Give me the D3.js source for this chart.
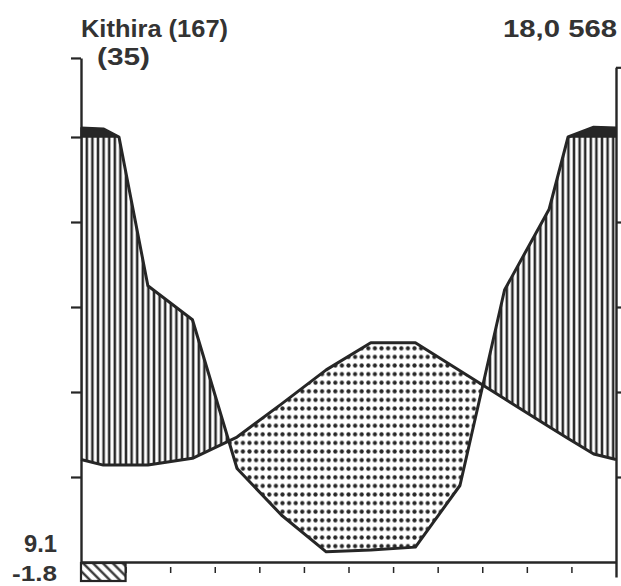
<!DOCTYPE html>
<html>
<head>
<meta charset="utf-8">
<script src="https://cdn.jsdelivr.net/npm/d3@7"></script>
<style>
  html, body { margin: 0; padding: 0; background: #fff; }
  svg { display: block; }
  text { font-family: "Liberation Sans", Arial, sans-serif; font-weight: bold; fill: #333; }
</style>
</head>
<body>
<svg id="chart" width="621" height="586"></svg>
<script>
// Walter-Lieth climate diagram, Kithira

const stationLabel = 'Kithira (167)';
const yearsLabel = '(35)';
const annualLabel = '18,0 568';
const lowLabels = ['9.1', '-1.8'];

const months = ['Jan', 'Feb', 'Mar', 'Apr', 'May', 'Jun', 'Jul', 'Aug', 'Sep', 'Oct', 'Nov', 'Dec'];
const tempVals = [11.4, 11.4, 12.2, 14.7, 18.6, 22.6, 25.8, 25.8, 22.5, 19.2, 15.9, 12.7];   // °C
const precipVals = [119, 65, 57, 22, 11, 2.4, 2.8, 3.5, 18, 64, 83, 123];                   // mm
const frostMonths = ['Jan'];

const tempTicks = [10, 20, 30, 40, 50];
const precipTicks = [20, 40, 60, 80];   // mm, = 10..40 °C

const W = 621, H = 586;
const ink = '#262626';

const svg = d3.select('#chart');
const defs = svg.append('defs');

// scales: 10 °C = 20 mm below 100 mm, 200 mm above
const x = d3.scaleLinear().domain([0, months.length]).range([81, 616]);
const yT = d3.scaleLinear().domain([0, 50]).range([562, 137]);
const yP = p => p <= 100 ? yT(p / 2) : yT(50 + (p - 100) / 20);

// patterns
const hv = defs.append('pattern').attr('id', 'hatchV')
  .attr('patternUnits', 'userSpaceOnUse').attr('width', 5.6).attr('height', 10);
hv.append('line').attr('x1', 2.8).attr('x2', 2.8).attr('y1', 0).attr('y2', 10)
  .attr('stroke', ink).attr('stroke-width', 2.5);

const dp = defs.append('pattern').attr('id', 'dots')
  .attr('patternUnits', 'userSpaceOnUse').attr('width', 6.6).attr('height', 8.6)
  .attr('x', 2).attr('y', 0);
dp.append('circle').attr('cx', 3.3).attr('cy', 4.3).attr('r', 2.1).attr('fill', ink);

const fd = defs.append('pattern').attr('id', 'frost')
  .attr('patternUnits', 'userSpaceOnUse').attr('width', 7).attr('height', 7)
  .attr('patternTransform', 'rotate(-45)');
fd.append('line').attr('x1', 3.5).attr('x2', 3.5).attr('y1', 0).attr('y2', 7)
  .attr('stroke', ink).attr('stroke-width', 2.2);

// nodes at month centres, diagram edges get the Dec/Jan mean
const n = months.length;
const edgeT = (tempVals[0] + tempVals[n - 1]) / 2;
const edgeP = (precipVals[0] + precipVals[n - 1]) / 2;
const nodes = [{ m: 0, t: edgeT, p: edgeP }];
months.forEach((mo, i) => nodes.push({ m: i + 0.5, t: tempVals[i], p: precipVals[i] }));
nodes.push({ m: n, t: edgeT, p: edgeP });

// add the points where precip crosses 100 mm, so the black caps start there
const pts = [];
nodes.forEach((d, i) => {
  if (i > 0) {
    const a = nodes[i - 1];
    if ((a.p - 100) * (d.p - 100) < 0) {
      const f = (100 - a.p) / (d.p - a.p);
      pts.push({ m: a.m + f * (d.m - a.m), t: a.t + f * (d.t - a.t), p: 100 });
    }
  }
  pts.push(d);
});

const px = d => x(d.m);
const yTemp = d => yT(d.t);
const yPc = d => yT(Math.min(d.p, 100) / 2);

// clip regions above / below the temperature curve
defs.append('clipPath').attr('id', 'aboveT').append('path')
  .attr('d', d3.area().x(px).y0(0).y1(yTemp)(pts));
defs.append('clipPath').attr('id', 'belowT').append('path')
  .attr('d', d3.area().x(px).y0(yTemp).y1(H)(pts));

const between = d3.area().x(px).y0(yTemp).y1(yPc);

// humid season (vertical hatch)
svg.append('path').attr('d', between(pts))
  .attr('fill', 'url(#hatchV)').attr('clip-path', 'url(#aboveT)');

// arid season (dots)
svg.append('path').attr('d', between(pts))
  .attr('fill', 'url(#dots)').attr('clip-path', 'url(#belowT)');

// perhumid caps > 100 mm
svg.append('path')
  .attr('d', d3.area().defined(d => d.p >= 100).x(px).y0(yT(50)).y1(d => yP(d.p))(pts))
  .attr('fill', ink).attr('stroke', ink).attr('stroke-width', 1.5);

// curves
svg.append('path').attr('d', d3.line().x(px).y(d => yP(d.p))(pts))
  .attr('fill', 'none').attr('stroke', ink).attr('stroke-width', 3).attr('stroke-linejoin', 'round');
svg.append('path').attr('d', d3.line().x(px).y(yTemp)(pts))
  .attr('fill', 'none').attr('stroke', ink).attr('stroke-width', 3).attr('stroke-linejoin', 'round');

// left axis (temperature), runs up past the 50 °C line
const leftTop = 59.3;
const yLeft = yT.copy().domain([0, leftTop]).range([yT(0), yT(leftTop)]);
const gl = svg.append('g').attr('transform', `translate(${x(0)},0)`)
  .call(d3.axisLeft(yLeft).tickValues(tempTicks.concat([leftTop])).tickSize(10).tickSizeOuter(0).tickFormat(''));

// right axis (precipitation)
const rightTop = 58.2, rightBottom = -1.75;
const yRight = yT.copy().domain([rightBottom, rightTop]).range([yT(rightBottom), yT(rightTop)]);
const gr = svg.append('g').attr('transform', `translate(${x(n)},0)`)
  .call(d3.axisRight(yRight).tickValues(precipTicks.map(p => p / 2).concat([rightTop]))
    .tickSize(7).tickSizeOuter(0).tickFormat(''));

// bottom axis, month boundaries
const gb = svg.append('g').attr('transform', `translate(0,${yT(0)})`)
  .call(d3.axisBottom(x).tickValues(d3.range(1, n)).tickSize(11).tickSizeOuter(0).tickFormat(''));
gb.selectAll('.tick line').attr('y1', 5);

[gl, gr, gb].forEach(g => {
  g.select('.domain').attr('stroke', ink).attr('stroke-width', 2.4);
  g.selectAll('.tick line').attr('stroke', ink).attr('stroke-width', 2.2);
});
gb.selectAll('.tick line').attr('stroke-width', 1.5);

// frost months box
frostMonths.forEach(mo => {
  const i = months.indexOf(mo);
  svg.append('rect')
    .attr('x', x(i)).attr('y', yT(0) + 1)
    .attr('width', x(i + 1) - x(i)).attr('height', 18)
    .attr('fill', 'url(#frost)').attr('stroke', ink).attr('stroke-width', 2.2);
});

// labels
svg.append('text').attr('x', 81).attr('y', 37).attr('font-size', 24)
  .attr('textLength', 147).attr('lengthAdjust', 'spacingAndGlyphs').text(stationLabel);
svg.append('text').attr('x', 97).attr('y', 65).attr('font-size', 24)
  .attr('textLength', 53).attr('lengthAdjust', 'spacingAndGlyphs').text(yearsLabel);
svg.append('text').attr('x', 617).attr('y', 37).attr('font-size', 24).attr('text-anchor', 'end')
  .attr('textLength', 114).attr('lengthAdjust', 'spacingAndGlyphs').text(annualLabel);
svg.append('text').attr('x', 57).attr('y', 552).attr('font-size', 23).attr('text-anchor', 'end')
  .attr('textLength', 33).attr('lengthAdjust', 'spacingAndGlyphs').text(lowLabels[0]);
svg.append('text').attr('x', 57).attr('y', 581).attr('font-size', 22).attr('text-anchor', 'end')
  .attr('textLength', 45).attr('lengthAdjust', 'spacingAndGlyphs').text(lowLabels[1]);
</script>
</body>
</html>
